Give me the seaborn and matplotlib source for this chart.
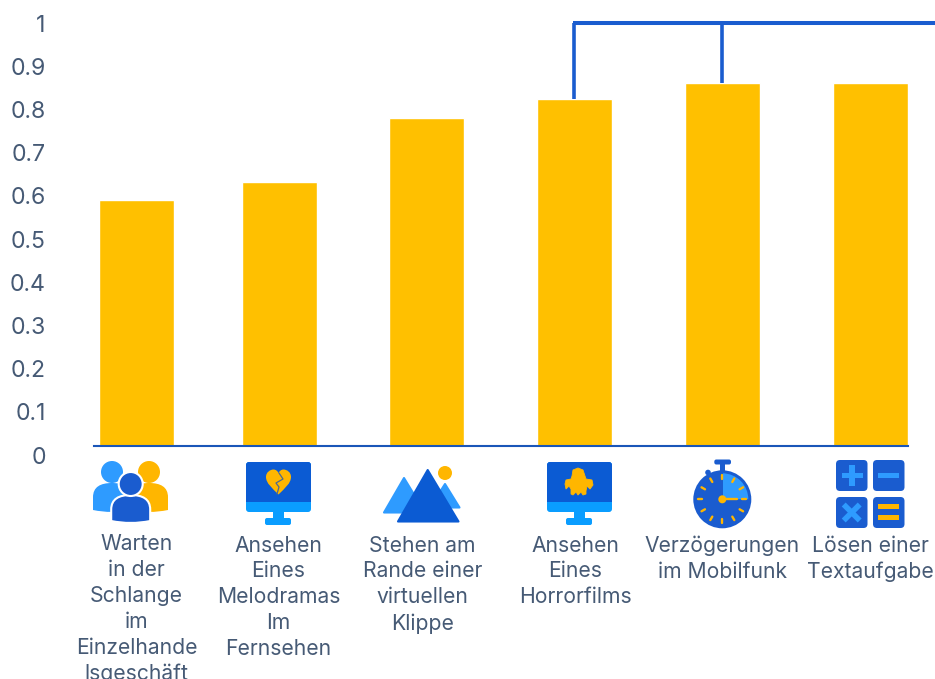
import numpy as np
import pandas as pd
import matplotlib
matplotlib.use("Agg")
import matplotlib.pyplot as plt
from matplotlib.patches import Circle, FancyBboxPatch, Polygon, Rectangle, Wedge, PathPatch
from matplotlib.path import Path
import seaborn as sns

# Chart values
activities = [
    "Warten\nin der\nSchlange\nim\nEinzelhande\nlsgeschäft",
    "Ansehen\nEines\nMelodramas\nIm\nFernsehen",
    "Stehen am\nRande einer\nvirtuellen\nKlippe",
    "Ansehen\nEines\nHorrorfilms",
    "Verzögerungen\nim Mobilfunk",
    "Lösen einer\nTextaufgabe",
]
scores = [0.59, 0.632, 0.78, 0.825, 0.86, 0.86]
tick_values = [0, 0.1, 0.2, 0.3, 0.4, 0.5, 0.6, 0.7, 0.8, 0.9, 1]
tick_labels = ["0", "0.1", "0.2", "0.3", "0.4", "0.5", "0.6", "0.7", "0.8", "0.9", "1"]
bracket_level = 1.0

# Layout, in figure pixels
W, H = 935, 679
bar_centres = [136.3, 279.3, 426.3, 574.3, 722.3, 870.3]
label_x = [136.5, 278.5, 422.5, 575.5, 722.5, 870.5]
label_top = [534.5, 535.5, 535.5, 535.5, 535.5, 535.5]
PX_PER_UNIT = 432
ZERO_PX = 455
BASE_PX = 446
TOP_PX = 0
TICK_TEXT_SHIFT = 2.5

AMBER = "#FFC000"
NAVY = "#1A5CCF"
DEEP = "#0B5BD3"
SKY = "#2E9BFF"
CYAN = "#0A9DFF"
GOLD = "#FFB600"
TEXT = "#465A75"

sns.set_theme(style="white")
plt.rcParams["font.family"] = ["Inter", "DejaVu Sans"]

fig = plt.figure(figsize=(W / 100, H / 100), dpi=100)
left, right = 94, 908
ax = fig.add_axes([left / W, 1 - BASE_PX / H, (right - left) / W, (BASE_PX - TOP_PX) / H])

frame = pd.DataFrame({"centre": bar_centres, "score": scores})
sns.barplot(data=frame, x="centre", y="score", native_scale=True, color=AMBER,
            saturation=1, width=75.6 / 143, ax=ax, zorder=2)

ax.set_xlim(left, right)
ax.set_ylim((ZERO_PX - BASE_PX) / PX_PER_UNIT, (ZERO_PX - TOP_PX) / PX_PER_UNIT)
ax.set_xlabel("")
ax.set_ylabel("")
ax.set_xticks([])
ax.set_yticks([])
for side in ("top", "right", "left"):
    ax.spines[side].set_visible(False)
ax.spines["bottom"].set_color("#1A56B8")
ax.spines["bottom"].set_linewidth(1.5)
ax.spines["bottom"].set_zorder(4)

# Bracket joining the two highlighted bars and running off to the right edge
ax.vlines([bar_centres[3], bar_centres[4]], [scores[3], scores[4]], bracket_level,
          color=NAVY, lw=2.6, zorder=3, clip_on=False)
ax.plot([bar_centres[3] - 1.5, W], [bracket_level, bracket_level], color=NAVY, lw=2.9,
        solid_capstyle="butt", zorder=3, clip_on=False)

# Overlay in pixel coordinates for value labels, captions and icons
ov = fig.add_axes([0, 0, 1, 1], zorder=5)
ov.set_xlim(0, W)
ov.set_ylim(H, 0)
ov.axis("off")
ov.patch.set_alpha(0)

for v, s in zip(tick_values, tick_labels):
    ov.text(45.7, ZERO_PX - v * PX_PER_UNIT + TICK_TEXT_SHIFT, s, ha="right", va="center",
            fontsize=16.6, color=TEXT)

for x, y, s in zip(label_x, label_top, activities):
    ov.text(x, y, s, ha="center", va="top", fontsize=15.2, color=TEXT,
            linespacing=1.365, clip_on=False)


def round_box(x0, y0, x1, y1, r, color, z=6):
    ov.add_patch(FancyBboxPatch((x0 + r, y0 + r), x1 - x0 - 2 * r, y1 - y0 - 2 * r,
                                boxstyle=f"round,pad={r},rounding_size={r}",
                                fc=color, ec="none", zorder=z))


def person(cx, head_y, head_r, body_w, body_top, body_bottom, color, outline=None, z=6):
    hw = body_w / 2
    verts = [(cx - hw, body_bottom - 2), (cx - hw, body_top + hw * 0.75),
             (cx - hw, body_top + hw * 0.2), (cx - hw * 0.6, body_top), (cx, body_top),
             (cx + hw * 0.6, body_top), (cx + hw, body_top + hw * 0.2), (cx + hw, body_top + hw * 0.75),
             (cx + hw, body_bottom - 2), (cx, body_bottom + 2), (cx - hw, body_bottom - 2),
             (cx - hw, body_bottom - 2)]
    codes = [Path.MOVETO, Path.LINETO, Path.CURVE4, Path.CURVE4, Path.CURVE4,
             Path.CURVE4, Path.CURVE4, Path.CURVE4, Path.LINETO,
             Path.CURVE3, Path.CURVE3, Path.CLOSEPOLY]
    ec = outline if outline else "none"
    lw = 1.5 if outline else 0
    ov.add_patch(PathPatch(Path(verts, codes), fc=color, ec=ec, lw=lw, zorder=z))
    ov.add_patch(Circle((cx, head_y), head_r, fc=color, ec=ec, lw=lw, zorder=z))


def monitor(x0, x1):
    ov.add_patch(Rectangle((x0 + 27, 511), 11, 9, fc=CYAN, ec="none", zorder=6))
    round_box(x0 + 19, 518, x0 + 45, 525, 2, CYAN)
    round_box(x0, 462, x1, 512, 3, CYAN)
    round_box(x0, 462, x1, 502, 3, DEEP, z=7)
    ov.add_patch(Rectangle((x0, 496), x1 - x0, 6, fc=DEEP, ec="none", zorder=7))


def heart(cx, cy, size, color):
    s = size / 2
    verts = [(cx, cy + s),
             (cx - 0.5 * s, cy + 0.5 * s), (cx - s, cy + 0.1 * s), (cx - s, cy - 0.4 * s),
             (cx - s, cy - 0.8 * s), (cx - 0.65 * s, cy - s), (cx - 0.4 * s, cy - s),
             (cx - 0.2 * s, cy - s), (cx - 0.05 * s, cy - 0.85 * s), (cx, cy - 0.7 * s),
             (cx + 0.05 * s, cy - 0.85 * s), (cx + 0.2 * s, cy - s), (cx + 0.4 * s, cy - s),
             (cx + 0.65 * s, cy - s), (cx + s, cy - 0.8 * s), (cx + s, cy - 0.4 * s),
             (cx + s, cy + 0.1 * s), (cx + 0.5 * s, cy + 0.5 * s), (cx, cy + s)]
    codes = [Path.MOVETO] + [Path.CURVE4] * 18
    ov.add_patch(PathPatch(Path(verts, codes), fc=color, ec="none", zorder=8))


# Queue of three people
person(112, 472, 11, 38, 483, 512, SKY)
person(149, 472, 11, 38, 483, 512, GOLD)
person(130.7, 484, 12, 39, 495, 523, NAVY, outline="white", z=7)

# Broken heart on a screen
monitor(246, 311)
heart(278.5, 482, 25, GOLD)
ov.plot([279, 283, 276, 279, 277], [473, 479, 483, 487, 494], color="#4E6A8F", lw=0.9, zorder=9)

# Mountains with a sun
ov.add_patch(Circle((445, 473), 7, fc=GOLD, ec="none", zorder=6))
ov.add_patch(Polygon([(404, 478), (384, 512.5), (425, 512.5)], fc=SKY, ec=SKY, lw=1.5,
                     joinstyle="round", zorder=6))
ov.add_patch(Polygon([(445, 484), (459.5, 507.5), (430, 507.5)], fc=SKY, ec=SKY, lw=1.5,
                     joinstyle="round", zorder=6))
ov.add_patch(Polygon([(427.7, 470), (398, 521.5), (458.5, 521.5)], fc=DEEP, ec=DEEP, lw=1.5,
                     joinstyle="round", zorder=7))

# Ghost on a screen
monitor(547, 612)
ghost = [(573, 470), (578, 468), (583, 470), (585, 476), (586, 479), (592, 480), (593, 485),
         (590, 489), (587, 486), (586, 491), (586, 494), (583, 495), (581, 492), (578, 495),
         (576, 492), (573, 495), (571, 494), (571, 489), (569, 486), (566, 489), (565, 484),
         (566, 480), (571, 479), (572, 476)]
ov.add_patch(Polygon(ghost, fc=GOLD, ec=GOLD, lw=0.6, joinstyle="round", zorder=8))

# Stopwatch
cx, cy, r = 722.3, 499.3, 29
round_box(714.3, 459.5, 731, 464.5, 2, NAVY)
ov.add_patch(Rectangle((720, 464), 5, 8, fc=NAVY, ec="none", zorder=6))
ov.add_patch(Circle((708, 472.5), 2.8, fc=NAVY, ec="none", zorder=6))
ov.plot([708, 713], [472.5, 477], color=NAVY, lw=1.4, zorder=6)
ov.add_patch(Circle((cx, cy), r, fc=NAVY, ec="none", zorder=6))
ov.add_patch(Wedge((cx, cy), 26, -90, 0, fc=SKY, ec="none", zorder=7))
ov.plot([cx, cx], [cy, cy - 26], color=NAVY, lw=1.4, zorder=8)
for k in range(12):
    a = np.deg2rad(k * 30)
    r0, r1 = 20, 24
    ov.plot([cx + r0 * np.sin(a), cx + r1 * np.sin(a)],
            [cy - r0 * np.cos(a), cy - r1 * np.cos(a)],
            color=GOLD, lw=1.7, solid_capstyle="round", zorder=9)
ov.plot([cx, cx + 15], [cy, cy], color=GOLD, lw=1.7, zorder=9)
ov.add_patch(Circle((cx, cy), 4, fc=GOLD, ec="none", zorder=9))

# Tiles with arithmetic signs
round_box(836, 460, 867.5, 491, 4, NAVY)
round_box(873, 460, 904.5, 491, 4, NAVY)
round_box(836, 497, 867.5, 528, 4, NAVY)
round_box(873, 497, 904.5, 528, 4, NAVY)
ov.add_patch(Rectangle((841.5, 472.5), 21, 5.5, fc=SKY, ec="none", zorder=7))
ov.add_patch(Rectangle((849.2, 465), 5.5, 21, fc=SKY, ec="none", zorder=7))
ov.add_patch(Rectangle((878, 472.5), 21, 5.5, fc=SKY, ec="none", zorder=7))
for sx in (1, -1):
    ov.plot([851.7 - 8 * sx, 851.7 + 8 * sx], [504.5, 520.5], color=SKY, lw=4,
            solid_capstyle="butt", zorder=7)
ov.add_patch(Rectangle((878, 504), 21, 5, fc=GOLD, ec="none", zorder=7))
ov.add_patch(Rectangle((878, 515), 21, 5, fc=GOLD, ec="none", zorder=7))

fig.savefig("out.png", dpi=100, facecolor="white")
